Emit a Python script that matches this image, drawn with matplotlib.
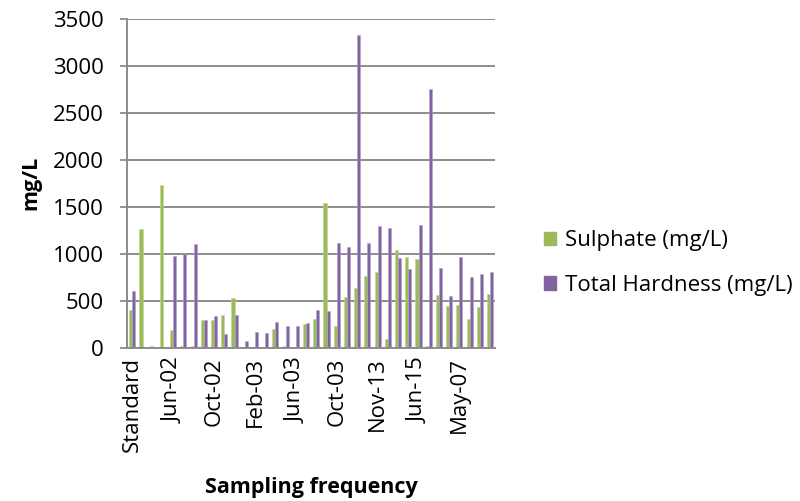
import numpy as np
import matplotlib
matplotlib.use("Agg")
import matplotlib.pyplot as plt
from matplotlib.patches import Patch

# values (36 sampling dates)
sulphate = [400, 1260, 20, 1730, 190, 20, 20, 290, 300, 350,
            525, 0, 0, 0, 198, 15, 10, 251, 301, 1540,
            226, 540, 639, 764, 810, 88, 1042, 963, 942, 20,
            561, 447, 454, 304, 429, 575]
hardness = [600, 0, 0, 0, 980, 1000, 1100, 290, 340, 150,
            347, 73, 169, 158, 276, 230, 226, 262, 397, 390,
            1116, 1070, 3331, 1116, 1298, 1270, 953, 839, 1309, 2751,
            849, 550, 963, 753, 785, 810]
tick_labels = ["Standard", "Jun-02", "Oct-02", "Feb-03", "Jun-03",
               "Oct-03", "Nov-13", "Jun-15", "May-07"]
label_step = 4

green = "#9BBB59"
purple = "#8064A2"
font = "Open Sans"

fig = plt.figure(figsize=(8, 5.01), dpi=100)
ax = fig.add_axes([0.159, 0.306, 0.46, 0.656])

x = np.arange(len(sulphate))
w = 0.3
ax.bar(x - w/2, sulphate, w, color=green, edgecolor="#C3D69B", linewidth=0.4)
ax.bar(x + w/2, hardness, w, color=purple, edgecolor="#B3A2C7", linewidth=0.4)

ax.set_xlim(-0.5, len(x) - 0.5)
ax.set_ylim(0, 3500)
ax.set_yticks(range(0, 3501, 500))
ax.yaxis.grid(True, color="#8C8C8C", linewidth=1.4)
ax.set_axisbelow(True)

ax.set_xticks(x[::label_step])
ax.set_xticklabels(tick_labels, rotation=90, fontsize=16, family=font)
ax.tick_params(axis="x", length=0, pad=7)
ax.tick_params(axis="y", length=5, width=1.3, color="#8C8C8C", labelsize=16, pad=12)
for t in ax.get_yticklabels():
    t.set_family(font)

for s in ["top", "right"]:
    ax.spines[s].set_visible(False)
ax.spines["left"].set_color("#8C8C8C")
ax.spines["left"].set_linewidth(1.4)
ax.spines["bottom"].set_color("#8C8C8C")
ax.spines["bottom"].set_linewidth(1.4)

ax.set_ylabel("mg/L", fontsize=15.5, fontweight="bold", family=font, labelpad=8)
ax.set_xlabel("Sampling frequency", fontsize=15.5, fontweight="bold", family=font, labelpad=18)

handles = [Patch(color=green, label="Sulphate (mg/L)"),
           Patch(color=purple, label="Total Hardness (mg/L)")]
fig.legend(handles=handles, loc="center left", bbox_to_anchor=(0.655, 0.475),
           frameon=False, prop={"family": font, "size": 16},
           handlelength=0.55, handleheight=0.55, labelspacing=1.05, handletextpad=0.4)

fig.savefig("out.png", dpi=100)
